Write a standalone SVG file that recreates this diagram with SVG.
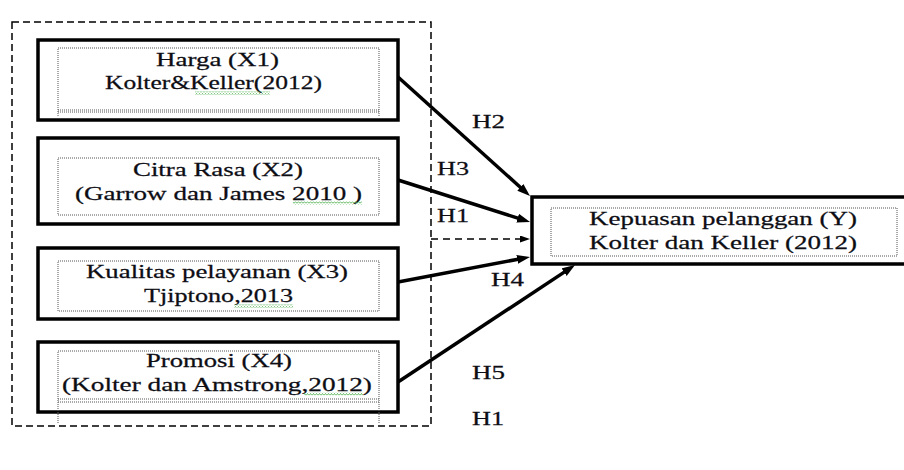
<svg xmlns="http://www.w3.org/2000/svg" width="904" height="470" viewBox="0 0 904 470">
<style>
text{font-family:'Liberation Serif','Times New Roman',serif;font-size:19px;fill:#0d0d14;stroke:#0d0d14;stroke-width:0.25}
.outer{fill:#fff;stroke:#000;stroke-width:3.5}
.dot{fill:none;stroke:#555;stroke-width:1;stroke-dasharray:1 1}
.conn{stroke:#000;stroke-width:3.5;fill:none}
.dash{stroke:#000;stroke-width:1.5;stroke-dasharray:7 5;fill:none}
.group{fill:none;stroke:#000;stroke-width:1.5;stroke-dasharray:7 4}
.sq{fill:url(#squig)}
</style>
<defs>
<marker id="ah" markerUnits="userSpaceOnUse" markerWidth="14" markerHeight="10" refX="1" refY="4.5" orient="auto">
<path d="M0,0 L13,4.5 L0,9 z" fill="#000"/>
</marker>
<marker id="ahs" markerUnits="userSpaceOnUse" markerWidth="11" markerHeight="8" refX="1" refY="3.5" orient="auto">
<path d="M0,0 L10,3.5 L0,7 z" fill="#000"/>
</marker>
<pattern id="squig" width="3" height="3" patternUnits="userSpaceOnUse">
<path d="M0,2.5 L1.5,0.5 L3,2.5" fill="none" stroke="#3aa83a" stroke-width="0.8"/>
</pattern>
</defs>
<rect width="904" height="470" fill="#fff"/>
<rect id="group-box" class="group" x="12" y="22" width="419" height="404"/>

<g id="connectors">
<line class="conn" x1="398" y1="77" x2="521.1" y2="188" marker-end="url(#ah)"/>
<line class="conn" x1="398" y1="180" x2="518.6" y2="218.4" marker-end="url(#ah)"/>
<line class="dash" x1="431" y1="239" x2="521" y2="239" marker-end="url(#ahs)"/>
<line class="conn" x1="398" y1="282" x2="518.2" y2="259.2" marker-end="url(#ah)"/>
<line class="conn" x1="398" y1="382" x2="565" y2="271.6" marker-end="url(#ah)"/>
<text font-family="Liberation Serif" transform="translate(472,128) scale(1.35,1)" textLength="24.4" lengthAdjust="spacingAndGlyphs">H2</text>
<text font-family="Liberation Serif" transform="translate(437,175) scale(1.35,1)" textLength="23.7" lengthAdjust="spacingAndGlyphs">H3</text>
<text font-family="Liberation Serif" transform="translate(437,222) scale(1.35,1)" textLength="23.7" lengthAdjust="spacingAndGlyphs">H1</text>
<text font-family="Liberation Serif" transform="translate(491,286) scale(1.35,1)" textLength="24.4" lengthAdjust="spacingAndGlyphs">H4</text>
<text font-family="Liberation Serif" transform="translate(472,379) scale(1.35,1)" textLength="24.4" lengthAdjust="spacingAndGlyphs">H5</text>
<text font-family="Liberation Serif" transform="translate(472,425) scale(1.35,1)" textLength="23.7" lengthAdjust="spacingAndGlyphs">H1</text>
</g>

<g id="node-x1">
<rect class="outer" x="38" y="40" width="360" height="80"/>
<path class="dot" d="M58,116 V48 H379 V116 M58,110 H379 M58,112 H379"/>
<text font-family="Liberation Serif" transform="translate(156,66) scale(1.35,1)" textLength="91.1" lengthAdjust="spacingAndGlyphs">Harga (X1)</text>
<text font-family="Liberation Serif" transform="translate(105,89) scale(1.35,1)" textLength="160.7" lengthAdjust="spacingAndGlyphs">Kolter&amp;Keller(2012)</text>
<rect class="sq" x="195" y="91.5" width="75" height="3"/>
</g>

<g id="node-x2">
<rect class="outer" x="38" y="138" width="360" height="86"/>
<rect class="dot" x="58" y="158" width="321" height="57"/>
<text font-family="Liberation Serif" transform="translate(133,176) scale(1.35,1)" textLength="125.9" lengthAdjust="spacingAndGlyphs">Citra Rasa (X2)</text>
<text font-family="Liberation Serif" transform="translate(75,200) scale(1.35,1)" textLength="212.6" lengthAdjust="spacingAndGlyphs">(Garrow dan James 2010 )</text>
<rect class="sq" x="293" y="201.5" width="69" height="3"/>
</g>

<g id="node-x3">
<rect class="outer" x="38" y="248" width="360" height="71"/>
<rect class="dot" x="58" y="261" width="321" height="50"/>
<text font-family="Liberation Serif" transform="translate(86,278) scale(1.35,1)" textLength="194.1" lengthAdjust="spacingAndGlyphs">Kualitas pelayanan (X3)</text>
<text font-family="Liberation Serif" transform="translate(144,302) scale(1.35,1)" textLength="110.4" lengthAdjust="spacingAndGlyphs">Tjiptono,2013</text>
<rect class="sq" x="234" y="304.5" width="59" height="3"/>
</g>

<g id="node-x4">
<rect class="outer" x="38" y="342" width="360" height="70"/>
<path class="dot" d="M58,423 V351 H379 V423 M58,399 H379 M58,402 H379"/>
<text font-family="Liberation Serif" transform="translate(146,367) scale(1.35,1)" textLength="108.1" lengthAdjust="spacingAndGlyphs">Promosi (X4)</text>
<text font-family="Liberation Serif" transform="translate(62,391) scale(1.35,1)" textLength="229.6" lengthAdjust="spacingAndGlyphs">(Kolter dan Amstrong,2012)</text>
<rect class="sq" x="304" y="392.5" width="59" height="3"/>
</g>

<g id="node-y">
<rect class="outer" x="532" y="197" width="380" height="67"/>
<rect class="dot" x="551" y="208" width="346" height="48"/>
<text font-family="Liberation Serif" transform="translate(589,225) scale(1.35,1)" textLength="198.5" lengthAdjust="spacingAndGlyphs">Kepuasan pelanggan (Y)</text>
<text font-family="Liberation Serif" transform="translate(589,249) scale(1.35,1)" textLength="198.5" lengthAdjust="spacingAndGlyphs">Kolter dan Keller (2012)</text>
</g>
</svg>
